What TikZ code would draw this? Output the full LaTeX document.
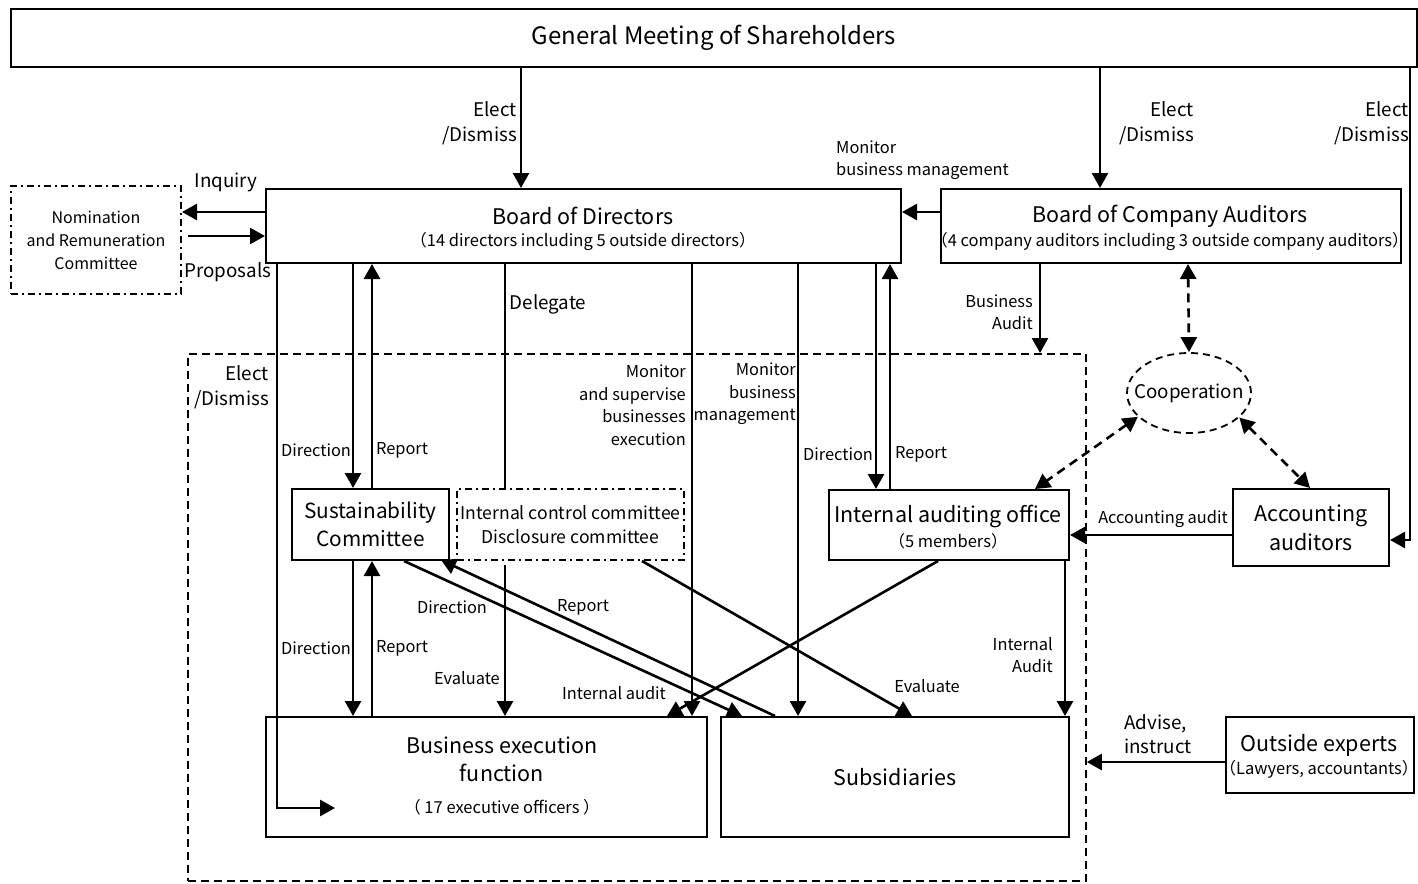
\documentclass[tikz,border=0pt]{standalone}
\usepackage{fontspec}
\setmainfont{Noto Sans CJK JP}
\usetikzlibrary{arrows.meta,shapes.geometric}
\tikzset{
  box/.style={draw, line width=2pt, inner sep=0pt, anchor=north west, align=center},
  ddbox/.style={box, dash pattern=on 7pt off 4pt on 2pt off 4pt},
  conn/.style={line width=2.6pt},
  tip/.tip={Triangle[length=15pt,width=16pt]},
  arr/.style={conn, -tip},
  darr/.style={conn, dash pattern=on 9pt off 6pt, tip-tip},
  big/.style={font=\fontsize{24}{30}\selectfont},
  mid/.style={font=\fontsize{21.5}{28}\selectfont},
  sub/.style={font=\fontsize{16.5}{21}\selectfont},
  lbl/.style={inner sep=0pt, font=\fontsize{18.8}{24.5}\selectfont},
  slbl/.style={inner sep=0pt, font=\fontsize{16.4}{22.5}\selectfont},
}
\begin{document}
\begin{tikzpicture}[x=1pt,y=-1pt]
\useasboundingbox (0,0) rectangle (1418,883);
% boxes
\node[box, minimum width=1406pt, minimum height=58pt, big] (gms) at (10,8) {General Meeting of Shareholders};
\node[box, minimum width=635pt, minimum height=74pt] (bod) at (265,188) {};
\node[mid] at (583,216) {Board of Directors};
\node[sub] at (583,241) {（14 directors including 5 outside directors）};
\node[box, minimum width=460pt, minimum height=74pt] (boca) at (940,188) {};
\node[mid] at (1170,216) {Board of Company Auditors};
\node[sub] at (1170,241) {（4 company auditors including 3 outside company auditors）};
\node[ddbox, minimum width=170pt, minimum height=108pt, font=\fontsize{16}{23}\selectfont] (nrc) at (10,185) {Nomination\\and Remuneration\\Committee};
\node[box, minimum width=157pt, minimum height=71pt, font=\fontsize{20.8}{28}\selectfont] (sc) at (291,488) {Sustainability\\Committee};
\node[ddbox, minimum width=227pt, minimum height=71pt, font=\fontsize{17.6}{24}\selectfont] (icc) at (456,488) {Internal control committee\\Disclosure committee};
\node[box, minimum width=240pt, minimum height=70pt] (iao) at (828,489) {};
\node[mid] at (948,516) {Internal auditing office};
\node[sub] at (948,541) {（5 members）};
\node[box, minimum width=156pt, minimum height=77pt, font=\fontsize{21.5}{29}\selectfont] (aa) at (1232,488) {Accounting\\auditors};
\node[draw, ellipse, line width=1.8pt, dash pattern=on 7pt off 5pt, minimum width=124pt, minimum height=80pt, inner sep=0pt] (coop) at (1189,393) {};
\node[inner sep=0pt, font=\fontsize{18.8}{22}\selectfont] at (coop.center) {Cooperation};
\node[box, minimum width=441pt, minimum height=120pt] (bef) at (265,716) {};
\node[mid, align=center] at (502,759) {Business execution\\function};
\node[sub] at (502,807) {（ 17 executive officers ）};
\node[box, minimum width=348pt, minimum height=120pt, mid] (subs) at (720,716) {Subsidiaries};
\node[box, minimum width=188pt, minimum height=76pt] (oe) at (1225,716) {};
\node[mid] at (1319,745) {Outside experts};
\node[sub] at (1319,769) {（Lawyers, accountants）};
\node[draw, line width=1.8pt, dash pattern=on 8pt off 5pt, inner sep=0pt, minimum width=898pt, minimum height=527pt, anchor=north west] (grp) at (187,353) {};

% connectors from GMS
\draw[arr] (gms.south -| 521,0) -- (bod.north -| 521,0);
\draw[arr] (gms.south -| 1100,0) -- (boca.north -| 1100,0);
\draw[arr] (gms.south -| 1410,0) -- (1410,540) -- (aa.east |- 0,540);
% nomination
\draw[arr] (bod.west |- 0,212) -- (nrc.east |- 0,212);
\coordinate (np) at (188,236);
\draw[arr] (np) -- (bod.west |- np);
% board of company auditors
\draw[arr] (boca.west |- 0,212) -- (bod.east |- 0,212);
\draw[arr] (boca.south -| 1040,0) -- (grp.north -| 1040,0);
\draw[darr] (boca.south -| 1188,0) -- (coop.north);
\draw[darr] (coop.205) -- (iao.north -| 1035,0);
\draw[darr] (coop.334) -- (aa.north -| 1310,0);
\draw[arr] (aa.west |- 0,535) -- (iao.east |- 0,535);
\draw[arr] (oe.west |- 0,762) -- (grp.east |- 0,762);
% from board of directors
\draw[arr] (bod.south -| 277,0) -- (277,808) -- (335,808);
\draw[arr] (bod.south -| 353,0) -- (sc.north -| 353,0);
\draw[arr] (sc.north -| 372,0) -- (bod.south -| 372,0);
\draw[conn] (bod.south -| 505,0) -- (icc.north -| 505,0);
\draw[arr] (bod.south -| 692,0) -- (bef.north -| 692,0);
\draw[arr] (bod.south -| 798,0) -- (subs.north -| 798,0);
\draw[arr] (bod.south -| 876,0) -- (iao.north -| 876,0);
\draw[arr] (iao.north -| 890,0) -- (bod.south -| 890,0);
% sustainability committee
\draw[arr] (sc.south -| 353,0) -- (bef.north -| 353,0);
\draw[arr] (bef.north -| 372,0) -- (sc.south -| 372,0);
\draw[arr] (sc.south -| 404,0) -- (subs.north -| 742,0);
\draw[arr] (subs.north -| 775,0) -- (441,560);
% internal control committee
\coordinate (ic1) at (505,565);
\draw[arr] (ic1) -- (bef.north -| ic1);
\draw[arr] (icc.south -| 642,0) -- (subs.north -| 912,0);
% internal auditing office
\draw[arr] (iao.south -| 938,0) -- (bef.north -| 667,0);
\draw[arr] (iao.south -| 1065,0) -- (subs.north -| 1065,0);

% labels
\node[lbl, anchor=east, align=right] at (517,123) {Elect\\/Dismiss};
\node[lbl, anchor=east, align=right] at (1194,123) {Elect\\/Dismiss};
\node[lbl, anchor=east, align=right] at (1409,123) {Elect\\/Dismiss};
\node[slbl, anchor=west, align=left] at (836,160) {Monitor\\business management};
\node[lbl] at (226,182) {Inquiry};
\node[lbl] at (228,272) {Proposals};
\node[lbl] at (548,304) {Delegate};
\node[lbl, anchor=east, align=right] at (269,387) {Elect\\/Dismiss};
\node[slbl] at (316,450) {Direction};
\node[slbl] at (402,450) {Report};
\node[slbl, anchor=east, align=right] at (686,405) {Monitor\\and supervise\\businesses\\execution};
\node[slbl, anchor=east, align=right] at (796,394) {Monitor\\business\\management};
\node[slbl] at (838,454) {Direction};
\node[slbl] at (921,454) {Report};
\node[slbl, anchor=east, align=right] at (1033,312) {Business\\Audit};
\node[slbl] at (1163,519) {Accounting audit};
\node[slbl] at (316,648) {Direction};
\node[slbl] at (402,648) {Report};
\node[slbl] at (452,607) {Direction};
\node[slbl] at (583,607) {Report};
\node[slbl] at (467,678) {Evaluate};
\node[slbl] at (614,693) {Internal audit};
\node[slbl] at (927,686) {Evaluate};
\node[slbl, anchor=east, align=right] at (1053,655) {Internal\\Audit};
\node[lbl, anchor=west, align=left] at (1124,734) {Advise,\\instruct};
\end{tikzpicture}
\end{document}
